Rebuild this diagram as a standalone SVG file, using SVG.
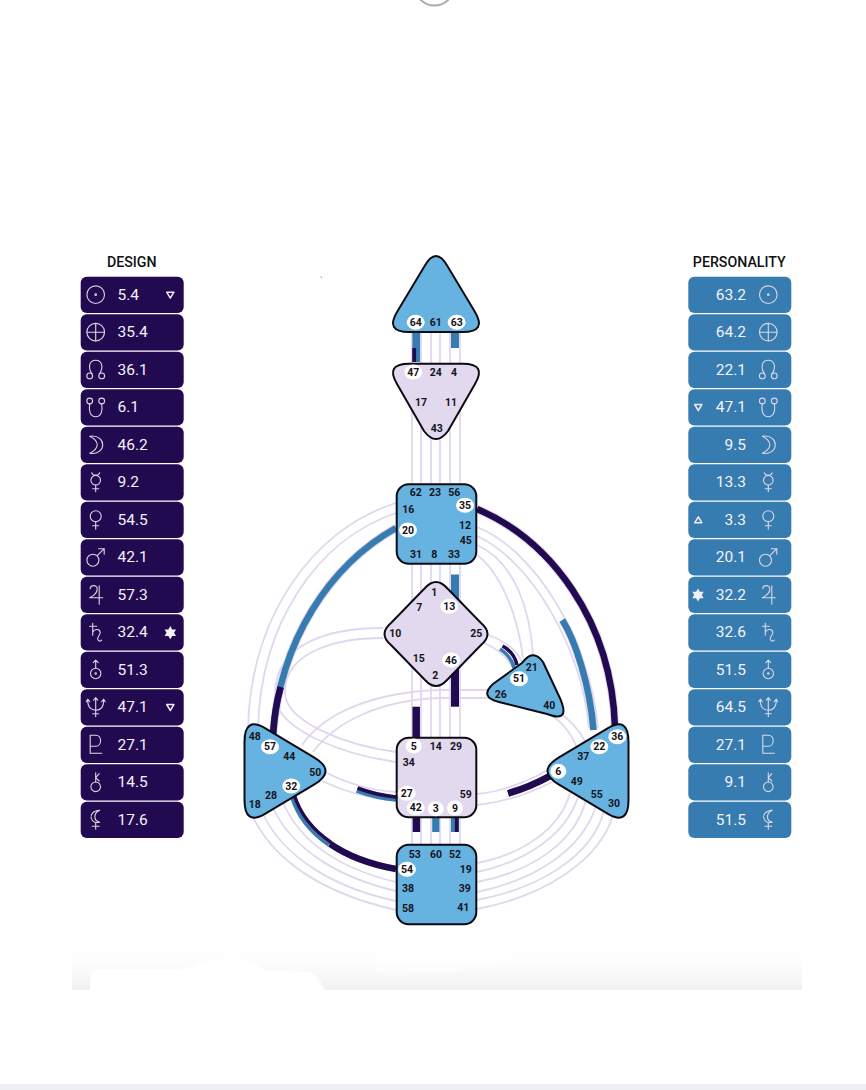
<svg xmlns="http://www.w3.org/2000/svg" width="866" height="1090" viewBox="0 0 866 1090">
<style>
text{font-family:Roboto,"Liberation Sans",sans-serif}
.hd{font-size:14.2px;font-weight:500;fill:#111;text-anchor:middle;dominant-baseline:central}
.v{font-size:15.5px;font-weight:400;fill:#f4f2f8;dominant-baseline:central}
.ve{text-anchor:end}
.g{font-size:10.5px;font-weight:700;fill:#15131c;text-anchor:middle;dominant-baseline:central}
.hl{fill:#fff}
.d{fill:#220a50}.p{fill:#377cb0}
.c{fill:none;stroke:#e0d7ee;stroke-width:1.8}
.cu{fill:none;stroke:#e0d7ee}
.kd{fill:none;stroke:#220a50}
.kb{fill:none;stroke:#377cb0}
.n{stroke:#0c0a12;stroke-width:2;stroke-linejoin:round}
.nb{fill:#66b3e1}.nl{fill:#e2d9ee}
.i{fill:none;stroke:#dcd6e6;stroke-width:1.1;stroke-linecap:round;stroke-linejoin:round}
.m{fill:none;stroke:#eeeaf3;stroke-width:1.5;stroke-linejoin:round}
.s{fill:#f2eff6}
</style>
<defs>
<linearGradient id="fade" x1="0" y1="0" x2="0" y2="1"><stop offset="0" stop-color="#fff"/><stop offset=".45" stop-color="#fbfbfb"/><stop offset="1" stop-color="#f1f1f1"/></linearGradient>
<g id="sun" class="i"><circle r="8.8"/><circle r="0.8"/></g>
<g id="earth" class="i"><circle r="8.8"/><path d="M-8.8,0H8.8M0,-8.8V8.8"/></g>
<g id="nnode" class="i"><circle cx="-6" cy="6.2" r="2.9"/><circle cx="6" cy="6.2" r="2.9"/><path d="M-3.8,4.2C-8,-2 -6.5,-9.5 0,-9.5C6.5,-9.5 8,-2 3.8,4.2"/></g>
<g id="snode" class="i"><circle cx="-6" cy="-6.2" r="2.9"/><circle cx="6" cy="-6.2" r="2.9"/><path d="M-6,-3.3C-7,3 -6,9.5 0,9.5C6,9.5 7,3 6,-3.3"/></g>
<g id="moon" class="i"><path d="M-6,-8.5C3,-10 7,-4 7,0C7,5 2,10 -6,8.5C-1,6 1.5,3 1.5,0C1.5,-3 -1,-6 -6,-8.5Z"/></g>
<g id="mercury" class="i"><circle cy="-2" r="4.8"/><path d="M0,2.8V9.5M-3,6.5H3M-4,-9.5C-3.5,-7.5 -2,-6.8 0,-6.8C2,-6.8 3.5,-7.5 4,-9.5"/></g>
<g id="venus" class="i"><circle cy="-3.5" r="5.5"/><path d="M0,2V9.5M-3,6H3"/></g>
<g id="mars" class="i"><circle cx="-2.8" cy="3" r="6"/><path d="M1.5,-1.5L8.5,-8.5M3,-8.5H8.5V-3"/></g>
<g id="jupiter" class="i"><path d="M-5.5,-6C-5.5,-10 1.5,-10.5 1.5,-5.5C1.5,-1.5 -3,1.5 -6,3H7M3.5,-9V9.5"/></g>
<g id="saturn" class="i"><path d="M-3,-9V3M-6,-6H1M-3,0C-1,-4 4.5,-3.5 4.5,0.5C4.5,3 1.5,4.5 2,7C2.4,9 4.5,9.5 6,8"/></g>
<g id="uranus" class="i"><circle cy="3.8" r="5.2"/><circle cy="3.8" r="0.7"/><path d="M0,-1.4V-9.5M-2.5,-7L0,-9.5L2.5,-7"/></g>
<g id="neptune" class="i"><path d="M-8,-7C-8,1 -4,3 0,3C4,3 8,1 8,-7M0,-9V9.5M-3,6.5H3M-9.5,-5.5L-8,-8L-6,-5.5M9.5,-5.5L8,-8L6,-5.5M-2,-7L0,-9.5L2,-7"/></g>
<g id="pluto" class="i"><path d="M-5.5,-9.5V8.5H6M-5.5,-9.5H0C6.500,-9.5 6.500,1.5 0,1.5H-5.5"/></g>
<g id="chiron" class="i"><circle cy="4.6" r="4.8"/><path d="M0,-0.2V-9.5M0,-4.5L3.5,-8.5M0,-4.5L3.5,-1.2"/></g>
<g id="lilith" class="i"><path d="M4,-9.5C-3,-9 -5.5,-5 -4.5,-1.5C-3.5,2 0,3.5 4,2.5C0.5,1.5 -1,-1 -0.8,-3.5C-0.5,-6.5 1.5,-8.5 4,-9.5ZM0,3V9.5M-3.5,6.5H3.5"/></g>
<path id="down" class="m" d="M-3.6,-2.8H3.6L0,3.2Z"/>
<path id="up" class="m" d="M-3.6,2.8H3.6L0,-3.2Z"/>
<polygon id="star" class="s" points="0,-6.6 1.9,-3.3 5.7,-3.3 3.8,0 5.7,3.3 1.9,3.3 0,6.6 -1.9,3.3 -5.7,3.3 -3.8,0 -5.7,-3.3 -1.9,-3.3"/>
</defs>

<g id="page">
<rect x="72" y="950" width="730" height="40" fill="url(#fade)"/>
<path d="M90,990V980Q91,972 96,969L181,969Q190,968 201,962Q222,957 240,959Q256,962 264,970L310,972Q320,977 324.5,990Z" fill="#fff"/>
<path d="M371,950Q371,966 376,970Q385,975 400,974Q450,972 487,968Q500,965 511,958L511,950Z" fill="#fff" opacity=".4"/>
<rect x="0" y="1084" width="866" height="6" fill="#eff0f5"/>
<circle cx="434.500" cy="-14" r="19.500" fill="#fff" stroke="#aaacb0" stroke-width="2"/>
<path d="M320.500,276.500L322,278" stroke="#8f8f8f" stroke-width="1" fill="none"/>
</g>

<g id="connectors">
<path class="c" d="M412,333V483M421,333V483M431,333V483M440,333V483M450,333V483M460,333V483M412,564V737M421,564V737M431,564V737M440,564V737M450,564V737M460,564V737M412,818V844M421,818V844M431,818V844M440,818V844M450,818V844M460,818V844"/>
<path class="c" d="M396,503C310,530 250,620 248,730M396,513C316,540 260,625 258,730"/>
<path class="c" d="M383,628C335,628 275,640 275,695C275,730 345,755 396,762M383,638C340,638 285,650 285,692C285,722 345,745 396,752"/>
<path class="c" d="M302,745C325,712 375,692 440,690L488,690M313,752C335,722 380,700 440,698L490,698"/>
<path class="c" d="M325,772Q360,790 396,792M322,781Q358,798 396,801"/>
<path class="c" d="M477,794Q510,791 548,770M477,805Q515,801 552,782"/>
<path class="c" d="M396,910C330,895 275,865 252,815M396,901C335,888 283,858 262,812M396,891C340,878 292,850 272,806M396,882C345,870 300,845 282,800"/>
<path class="c" d="M477,863C520,855 560,830 570,793M477,872C525,862 566,835 578,797M477,882C530,872 575,843 586,800M477,892C535,880 582,850 596,806M477,900C540,888 592,856 604,811M477,909C545,896 600,860 613,815"/>
<path class="c" d="M477,527C535,550 590,640 598,728M477,536C530,560 581,645 589,728"/>
<path class="c" d="M477,545C515,562 530,610 533,655M477,555C500,572 518,615 523,658"/>
<path class="c" d="M549,714Q568,725 577,748M558,712Q575,722 586,743"/>
<path class="c" d="M486,634Q514,644 522,662M484,643Q505,652 513,668"/>

<path class="cu" stroke-width="8.500" d="M396,528C330,565 280,640 273,735"/>
<path class="kb" stroke-width="6.500" d="M396,528C330,565 280,640 273,735"/>
<path class="kd" stroke-width="6.500" d="M280.700,687C276,703 274,718 273,735"/>
<path class="cu" stroke-width="8.500" d="M477,509C550,540 612,620 615,728"/>
<path class="kd" stroke-width="6.500" d="M477,509C550,540 612,620 615,728"/>
<path class="cu" stroke-width="8" d="M562.300,620C575,640 590,685 593.500,730"/>
<path class="kb" stroke-width="6.500" d="M562.300,620C575,640 590,685 593.500,730"/>
<path class="kd" stroke-width="7" d="M508,793.500Q530,787 550,776"/>
<path class="kb" stroke-width="3.500" d="M356.500,791Q376,798 396,800"/>
<path class="kd" stroke-width="3.500" d="M357.500,788Q376,795 396,797"/>
<path class="kb" stroke-width="3.500" d="M500,649Q511,656 514,668"/>
<path class="kd" stroke-width="3.500" d="M502.500,646Q514,652 517,665"/>
<path class="kb" stroke-width="3.500" d="M291.800,797.200C297.800,816.700 310.800,832.700 328.700,845"/>
<path class="kd" stroke-width="3.500" d="M294.200,794.800C300.200,814.300 313.200,830.300 331.100,842.500"/>
<path class="kd" stroke-width="6.500" d="M329.900,843.750C347.750,856 370.500,864.500 396,869"/>

<path class="kb" stroke-width="7.700" d="M416.200,333V362"/>
<path class="kd" stroke-width="3.800" d="M414.200,348V362"/>
<path class="kb" stroke-width="8" d="M455,333V348"/>
<path class="kb" stroke-width="8" d="M455,574.500V605"/>
<path class="kd" stroke-width="8" d="M455,665V706.700"/>
<path class="kd" stroke-width="7.500" d="M416.200,706.700V737"/>
<path class="kd" stroke-width="7.500" d="M416.400,818V832"/>
<path class="kb" stroke-width="7.200" d="M435.800,818V832"/>
<path class="kb" stroke-width="7.700" d="M454.800,818V832"/>
<path class="kd" stroke-width="3.800" d="M456.800,818V832"/>
</g>

<g id="head">
<path class="n nb" d="M424,267Q436,245 448,267L475,312Q487,332 463,332L409,332Q385,332 397,312Z"/>
<ellipse class="hl" cx="415.700" cy="322.300" rx="9" ry="7.500"/><ellipse class="hl" cx="456.700" cy="322.300" rx="9" ry="7.500"/>
<text class="g" x="415.700" y="322.300">64</text><text class="g" x="435.700" y="322.300">61</text><text class="g" x="456.700" y="322.300">63</text>
</g>
<g id="ajna">
<path class="n nl" d="M409,363.700L463,363.700Q487,363.700 475,384L448,431Q436,447 424,431L397,384Q385,363.700 409,363.700Z"/>
<ellipse class="hl" cx="413.300" cy="372" rx="9" ry="7.500"/>
<text class="g" x="413.300" y="372">47</text><text class="g" x="435.700" y="372">24</text><text class="g" x="454" y="372">4</text><text class="g" x="421" y="402.300">17</text><text class="g" x="451" y="402.300">11</text><text class="g" x="436.700" y="428.300">43</text>
</g>
<g id="throat">
<rect class="n nb" x="396.700" y="484.200" width="79.600" height="79.600" rx="12"/>
<ellipse class="hl" cx="465" cy="505.300" rx="9" ry="7.500"/><ellipse class="hl" cx="408" cy="530" rx="9" ry="7.500"/>
<text class="g" x="415.700" y="492.700">62</text><text class="g" x="435" y="492.700">23</text><text class="g" x="454.300" y="492.700">56</text><text class="g" x="408.300" y="509.300">16</text><text class="g" x="465" y="505.300">35</text><text class="g" x="408" y="530">20</text><text class="g" x="465" y="525">12</text><text class="g" x="465.700" y="540">45</text><text class="g" x="416" y="554">31</text><text class="g" x="434.300" y="554">8</text><text class="g" x="454" y="554">33</text>
</g>
<g id="g-center">
<path class="n nl" d="M425,588Q436,576 447,588L481,623Q494,634 481,645L447,680Q436,692 425,680L391,645Q378,634 391,623Z"/>
<ellipse class="hl" cx="449.300" cy="606.300" rx="9" ry="7.500"/><ellipse class="hl" cx="451" cy="660" rx="9" ry="7.500"/>
<text class="g" x="434.300" y="592.700">1</text><text class="g" x="419.300" y="607.700">7</text><text class="g" x="449.300" y="606.300">13</text><text class="g" x="395.300" y="633.300">10</text><text class="g" x="476.300" y="633.300">25</text><text class="g" x="418.700" y="658.700">15</text><text class="g" x="451" y="660">46</text><text class="g" x="435.300" y="675.300">2</text>
</g>
<g id="heart">
<path class="n nb" d="M522,663Q533,648 543,662L558,694Q573,724 547,714L499,702Q479,697 493,684Z"/>
<ellipse class="hl" cx="519" cy="678.700" rx="9" ry="7.500"/>
<text class="g" x="531.700" y="667.300">21</text><text class="g" x="519" y="678.700">51</text><text class="g" x="500.700" y="694">26</text><text class="g" x="549.300" y="705">40</text>
</g>
<g id="spleen">
<path class="n nb" d="M244.500,742Q244.500,716 265,728.200L314,757.300Q337,771 314,784.700L265,813.800Q244.500,826 244.500,800Z"/>
<ellipse class="hl" cx="270" cy="746.700" rx="9" ry="7.500"/><ellipse class="hl" cx="291.300" cy="786" rx="9" ry="7.500"/>
<text class="g" x="254.700" y="736.700">48</text><text class="g" x="270" y="746.700">57</text><text class="g" x="289.300" y="756.700">44</text><text class="g" x="315.300" y="772">50</text><text class="g" x="291.300" y="786">32</text><text class="g" x="271" y="795.300">28</text><text class="g" x="254.700" y="804.300">18</text>
</g>
<g id="sacral">
<rect class="n nl" x="396.700" y="737.700" width="79.600" height="79.600" rx="12"/>
<ellipse class="hl" cx="413.700" cy="746" rx="8" ry="7.500"/><ellipse class="hl" cx="406.700" cy="793.300" rx="9" ry="7.500"/><ellipse class="hl" cx="415.700" cy="807.700" rx="9" ry="7.500"/><ellipse class="hl" cx="435.700" cy="808.700" rx="8" ry="7.500"/><ellipse class="hl" cx="455" cy="808" rx="8" ry="7.500"/>
<text class="g" x="413.700" y="746">5</text><text class="g" x="435.700" y="746">14</text><text class="g" x="456" y="746">29</text><text class="g" x="408.700" y="762.300">34</text><text class="g" x="406.700" y="793.300">27</text><text class="g" x="465.700" y="794.300">59</text><text class="g" x="415.700" y="807.700">42</text><text class="g" x="435.700" y="808.700">3</text><text class="g" x="455" y="808">9</text>
</g>
<g id="root">
<rect class="n nb" x="396.700" y="844.700" width="79.600" height="79.600" rx="12"/>
<ellipse class="hl" cx="407" cy="869.300" rx="9" ry="7.500"/>
<text class="g" x="414.700" y="854.300">53</text><text class="g" x="436" y="854.300">60</text><text class="g" x="455" y="854.300">52</text><text class="g" x="407" y="869.300">54</text><text class="g" x="465.700" y="869.300">19</text><text class="g" x="408" y="888.300">38</text><text class="g" x="464.700" y="888.300">39</text><text class="g" x="408" y="908.300">58</text><text class="g" x="463.300" y="907.300">41</text>
</g>
<g id="solar-plexus">
<path class="n nb" d="M628.500,742Q628.500,716 608,728.200L559,757.300Q536,771 559,784.700L608,813.800Q628.500,826 628.500,800Z"/>
<ellipse class="hl" cx="617.300" cy="736.700" rx="9" ry="7.500"/><ellipse class="hl" cx="599.300" cy="746.700" rx="9" ry="7.500"/><ellipse class="hl" cx="558.300" cy="771.300" rx="8" ry="7.500"/>
<text class="g" x="617.300" y="736.700">36</text><text class="g" x="599.300" y="746.700">22</text><text class="g" x="583.300" y="756">37</text><text class="g" x="558.300" y="771.300">6</text><text class="g" x="576.700" y="781.700">49</text><text class="g" x="596.700" y="794.300">55</text><text class="g" x="614" y="803.300">30</text>
</g>

<g id="design">
<text class="hd" x="131.700" y="261.700">DESIGN</text>
<g class="d">
<rect x="80.700" y="276.700" width="103" height="36.300" rx="6"/><rect x="80.700" y="314.200" width="103" height="36.300" rx="6"/><rect x="80.700" y="351.700" width="103" height="36.300" rx="6"/><rect x="80.700" y="389.200" width="103" height="36.300" rx="6"/><rect x="80.700" y="426.700" width="103" height="36.300" rx="6"/><rect x="80.700" y="464.200" width="103" height="36.300" rx="6"/><rect x="80.700" y="501.700" width="103" height="36.300" rx="6"/><rect x="80.700" y="539.200" width="103" height="36.300" rx="6"/><rect x="80.700" y="576.700" width="103" height="36.300" rx="6"/><rect x="80.700" y="614.200" width="103" height="36.300" rx="6"/><rect x="80.700" y="651.700" width="103" height="36.300" rx="6"/><rect x="80.700" y="689.200" width="103" height="36.300" rx="6"/><rect x="80.700" y="726.700" width="103" height="36.300" rx="6"/><rect x="80.700" y="764.200" width="103" height="36.300" rx="6"/><rect x="80.700" y="801.700" width="103" height="36.300" rx="6"/>
</g>
<use href="#sun" x="95.700" y="294.700"/><use href="#earth" x="95.700" y="332.200"/><use href="#nnode" x="95.700" y="369.700"/><use href="#snode" x="95.700" y="407.200"/><use href="#moon" x="95.700" y="444.700"/><use href="#mercury" x="95.700" y="482.200"/><use href="#venus" x="95.700" y="519.700"/><use href="#mars" x="95.700" y="557.200"/><use href="#jupiter" x="95.700" y="594.700"/><use href="#saturn" x="95.700" y="632.200"/><use href="#uranus" x="95.700" y="669.700"/><use href="#neptune" x="95.700" y="707.200"/><use href="#pluto" x="95.700" y="744.700"/><use href="#chiron" x="95.700" y="782.200"/><use href="#lilith" x="95.700" y="819.700"/>
<text class="v" x="117.500" y="294.500">5.4</text><text class="v" x="117.500" y="332">35.4</text><text class="v" x="117.500" y="369.500">36.1</text><text class="v" x="117.500" y="407">6.1</text><text class="v" x="117.500" y="444.500">46.2</text><text class="v" x="117.500" y="482">9.2</text><text class="v" x="117.500" y="519.500">54.5</text><text class="v" x="117.500" y="557">42.1</text><text class="v" x="117.500" y="594.500">57.3</text><text class="v" x="117.500" y="632">32.4</text><text class="v" x="117.500" y="669.500">51.3</text><text class="v" x="117.500" y="707">47.1</text><text class="v" x="117.500" y="744.500">27.1</text><text class="v" x="117.500" y="782">14.5</text><text class="v" x="117.500" y="819.500">17.6</text>
<use href="#down" x="170.300" y="295"/><use href="#star" x="170.300" y="632.700"/><use href="#down" x="170.300" y="707.300"/>
</g>

<g id="personality">
<text class="hd" x="739.300" y="261.700">PERSONALITY</text>
<g class="p">
<rect x="688.300" y="276.700" width="103" height="36.300" rx="6"/><rect x="688.300" y="314.200" width="103" height="36.300" rx="6"/><rect x="688.300" y="351.700" width="103" height="36.300" rx="6"/><rect x="688.300" y="389.200" width="103" height="36.300" rx="6"/><rect x="688.300" y="426.700" width="103" height="36.300" rx="6"/><rect x="688.300" y="464.200" width="103" height="36.300" rx="6"/><rect x="688.300" y="501.700" width="103" height="36.300" rx="6"/><rect x="688.300" y="539.200" width="103" height="36.300" rx="6"/><rect x="688.300" y="576.700" width="103" height="36.300" rx="6"/><rect x="688.300" y="614.200" width="103" height="36.300" rx="6"/><rect x="688.300" y="651.700" width="103" height="36.300" rx="6"/><rect x="688.300" y="689.200" width="103" height="36.300" rx="6"/><rect x="688.300" y="726.700" width="103" height="36.300" rx="6"/><rect x="688.300" y="764.200" width="103" height="36.300" rx="6"/><rect x="688.300" y="801.700" width="103" height="36.300" rx="6"/>
</g>
<use href="#sun" x="768.300" y="294.700"/><use href="#earth" x="768.300" y="332.200"/><use href="#nnode" x="768.300" y="369.700"/><use href="#snode" x="768.300" y="407.200"/><use href="#moon" x="768.300" y="444.700"/><use href="#mercury" x="768.300" y="482.200"/><use href="#venus" x="768.300" y="519.700"/><use href="#mars" x="768.300" y="557.200"/><use href="#jupiter" x="768.300" y="594.700"/><use href="#saturn" x="768.300" y="632.200"/><use href="#uranus" x="768.300" y="669.700"/><use href="#neptune" x="768.300" y="707.200"/><use href="#pluto" x="768.300" y="744.700"/><use href="#chiron" x="768.300" y="782.200"/><use href="#lilith" x="768.300" y="819.700"/>
<text class="v ve" x="746" y="294.500">63.2</text><text class="v ve" x="746" y="332">64.2</text><text class="v ve" x="746" y="369.500">22.1</text><text class="v ve" x="746" y="407">47.1</text><text class="v ve" x="746" y="444.500">9.5</text><text class="v ve" x="746" y="482">13.3</text><text class="v ve" x="746" y="519.500">3.3</text><text class="v ve" x="746" y="557">20.1</text><text class="v ve" x="746" y="594.500">32.2</text><text class="v ve" x="746" y="632">32.6</text><text class="v ve" x="746" y="669.500">51.5</text><text class="v ve" x="746" y="707">64.5</text><text class="v ve" x="746" y="744.500">27.1</text><text class="v ve" x="746" y="782">9.1</text><text class="v ve" x="746" y="819.500">51.5</text>
<use href="#down" x="698.300" y="407.300"/><use href="#up" x="698.300" y="520"/><use href="#star" x="698" y="595"/>
</g>
</svg>
